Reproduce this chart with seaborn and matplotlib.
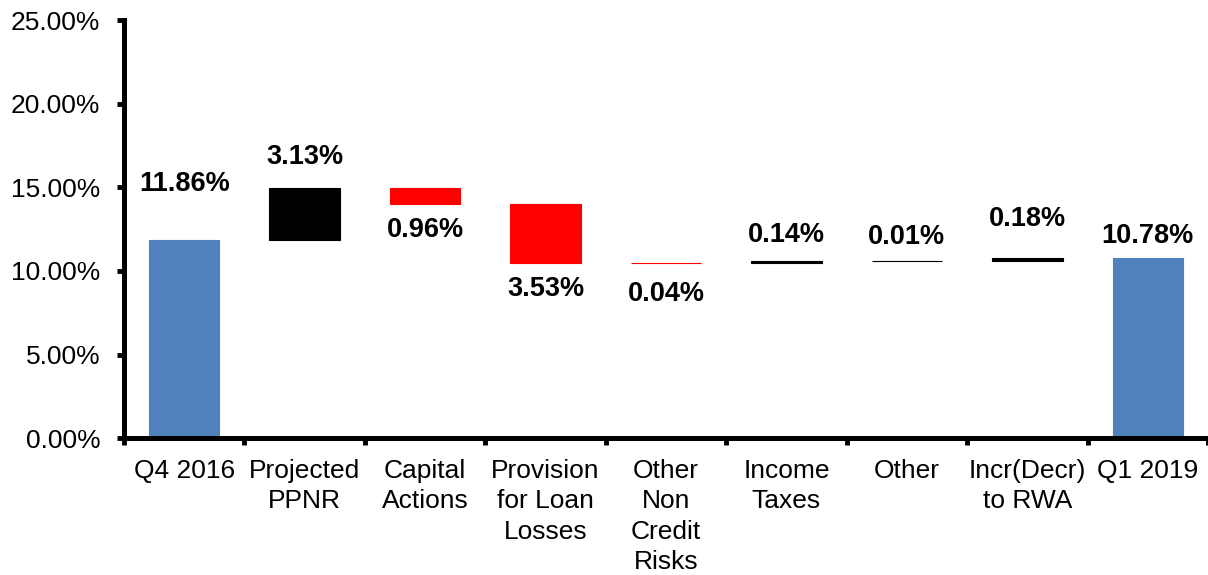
import numpy as np
import pandas as pd
import matplotlib
matplotlib.use("Agg")
import matplotlib.pyplot as plt
import seaborn as sns

categories = ["Q4 2016", "Projected\nPPNR", "Capital\nActions", "Provision\nfor Loan\nLosses",
              "Other\nNon\nCredit\nRisks", "Income\nTaxes", "Other", "Incr(Decr)\nto RWA", "Q1 2019"]
changes = [11.86, 3.13, -0.96, -3.53, -0.04, 0.14, 0.01, 0.18, 10.78]
labels = ["11.86%", "3.13%", "0.96%", "3.53%", "0.04%", "0.14%", "0.01%", "0.18%", "10.78%"]
is_total = [True, False, False, False, False, False, False, False, True]
# label offsets in points (positive = above bar top, negative = below bar bottom)
label_offsets = [40, 22, -19, -19, -22, 19, 17, 28, 16]

sns.set_style("ticks")
plt.rcParams["font.family"] = ["Liberation Sans", "DejaVu Sans"]
plt.rcParams["text.color"] = "black"
plt.rcParams["xtick.color"] = "black"
plt.rcParams["ytick.color"] = "black"

# waterfall geometry from running total
bottoms, heights, colors = [], [], []
running = 0.0
for chg, tot in zip(changes, is_total):
    if tot:
        bottoms.append(0.0)
        heights.append(chg)
        colors.append("#4f81bd")
        running = chg
    else:
        start, end = running, running + chg
        bottoms.append(min(start, end))
        heights.append(abs(chg))
        colors.append("#000000" if chg > 0 else "#ff0000")
        running = end

df = pd.DataFrame({"cat": categories, "h": heights})

fig = plt.figure(figsize=(12.08, 5.75), dpi=100)
ax = fig.add_axes([0.1026, 0.238, 0.8974, 0.727])
sns.barplot(data=df, x="cat", y="h", bottom=bottoms, width=0.585, errorbar=None,
            color="#4f81bd", linewidth=0, ax=ax)
for p, c in zip(ax.patches, colors):
    p.set_facecolor(c)
    p.set_edgecolor(c)
    p.set_linewidth(0.8)

for i, (b, h, lab, off) in enumerate(zip(bottoms, heights, labels, label_offsets)):
    y = b + h if off > 0 else b
    ax.annotate(lab, (i, y), xytext=(0, off), textcoords="offset points",
                ha="center", va="center", fontsize=19.5, fontweight="bold", color="black")

ax.set_xlim(-0.5, 8.5)
ax.set_ylim(0, 25)
ax.set_yticks([0, 5, 10, 15, 20, 25])
ax.set_yticklabels([f"{v:.2f}%" for v in [0, 5, 10, 15, 20, 25]])
ax.set_xlabel("")
ax.set_ylabel("")
ax.set_xticks(np.arange(len(categories)))
ax.set_xticklabels(categories, linespacing=1.33, va="top")
ax.set_xticks(np.arange(-0.5, len(categories)), minor=True)
ax.tick_params(axis="x", which="major", length=0, pad=15, labelsize=19)
ax.tick_params(axis="x", which="minor", length=5, width=3.5, direction="out")
ax.tick_params(axis="y", length=5, width=3.5, direction="out", pad=12, labelsize=19)

sns.despine(ax=ax)
for s in ["left", "bottom"]:
    ax.spines[s].set_linewidth(3.6)
    ax.spines[s].set_color("black")

fig.savefig("out.png", dpi=100)
